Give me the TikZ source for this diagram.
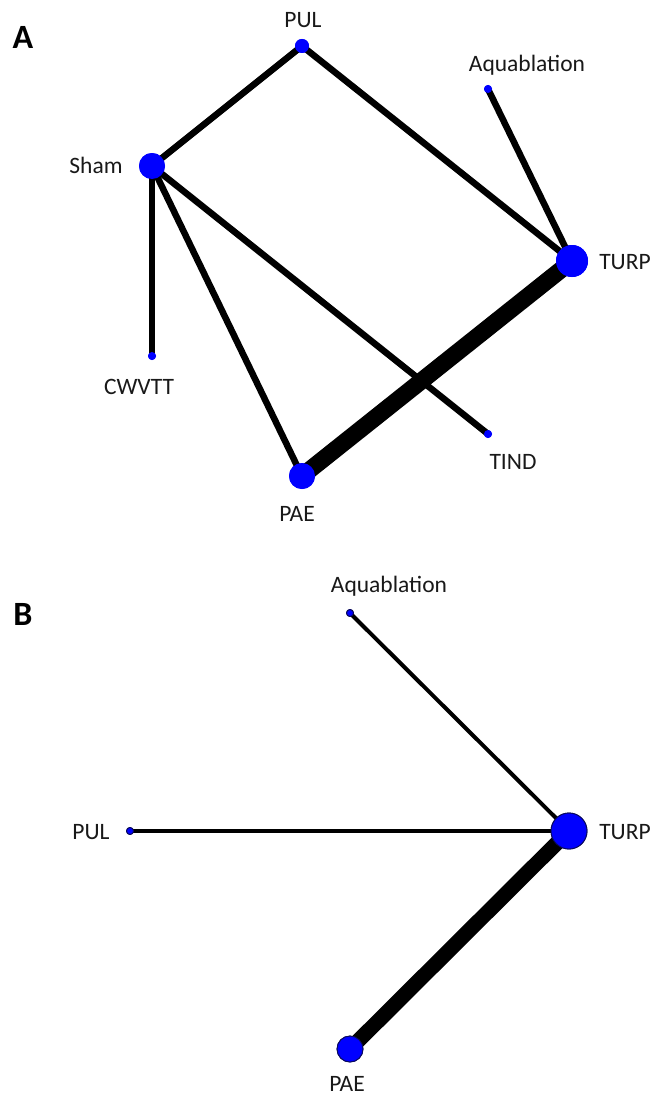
\documentclass[tikz,border=0pt]{standalone}
\usepackage{fontspec}
\setmainfont{Carlito}
\definecolor{nodeblue}{RGB}{0,0,255}
\definecolor{rimblue}{RGB}{10,10,90}
\tikzset{
  dot/.style={circle, fill=nodeblue, inner sep=0pt, minimum size=#1},
  dotB/.style={circle, fill=nodeblue, draw=rimblue, line width=0.9pt, inner sep=0pt, minimum size=#1},
  lab/.style={font=\fontsize{23.5}{27}\selectfont, inner sep=0pt, text=black!90},
  panel/.style={font=\fontsize{34}{38}\selectfont\bfseries, inner sep=0pt},
  edgeA/.style={line width=6.5pt, black},
  thickA/.style={line width=17pt, black},
  edgeB/.style={line width=4pt, black},
  thickB/.style={line width=15pt, black},
}
\begin{document}
\begin{tikzpicture}[x=1pt, y=-1pt]
\useasboundingbox (0,0) rectangle (652,1097);
\fill[white] (0,0) rectangle (652,1097);

% ---------- Panel A ----------
\node[panel] (labA) at (23,37) {A};
\node[dot=14pt] (pul) at (302,46) {};
\node[dot=8pt] (aqua) at (488,89) {};
\node[dot=26pt] (sham) at (152,166) {};
\node[dot=32pt] (turp) at (572,261) {};
\node[dot=8pt] (cwvtt) at (152,356) {};
\node[dot=8pt] (tind) at (488,434) {};
\node[dot=26pt] (pae) at (302,476) {};

\draw[edgeA] (sham.center) -- (pul.center);
\draw[edgeA] (pul.center) -- (turp.center);
\draw[edgeA] (aqua.center) -- (turp.center);
\draw[edgeA] (sham.center) -- (cwvtt.center);
\draw[edgeA] (sham.center) -- (pae.center);
\draw[edgeA] (sham.center) -- (tind.center);
\draw[thickA] (pae.center) -- (turp.center);

\node[dot=14pt] at (pul) {};
\node[dot=8pt] at (aqua) {};
\node[dot=26pt] at (sham) {};
\node[dot=32pt] at (turp) {};
\node[dot=8pt] at (cwvtt) {};
\node[dot=8pt] at (tind) {};
\node[dot=26pt] at (pae) {};

\node[lab] (pulL) at (303,20) {PUL};
\node[lab] (aquaL) at (527,65) {Aquablation};
\node[lab] (shamL) at (96,165) {Sham};
\node[lab] (turpL) at (625,262) {TURP};
\node[lab] (cwvttL) at (139,387) {CWVTT};
\node[lab] (tindL) at (513,462) {TIND};
\node[lab] (paeL) at (297,514) {PAE};

% ---------- Panel B ----------
\node[panel] (labB) at (23,614) {B};
\node[dotB=7pt] (aquab) at (350,613) {};
\node[dotB=7pt] (pulb) at (130,831) {};
\node[dotB=36pt] (turpb) at (569,831) {};
\node[dotB=26pt] (paeb) at (350,1049) {};

\draw[edgeB] (aquab.center) -- (turpb.center);
\draw[edgeB] (pulb.center) -- (turpb.center);
\draw[thickB] (paeb.center) -- (turpb.center);

\node[dotB=7pt] at (aquab) {};
\node[dotB=7pt] at (pulb) {};
\node[dotB=36pt] at (turpb) {};
\node[dotB=26pt] at (paeb) {};

\node[lab] (aquabL) at (389,586) {Aquablation};
\node[lab] (pulbL) at (91,832) {PUL};
\node[lab] (turpbL) at (625,832) {TURP};
\node[lab] (paebL) at (347,1084) {PAE};
\end{tikzpicture}
\end{document}
